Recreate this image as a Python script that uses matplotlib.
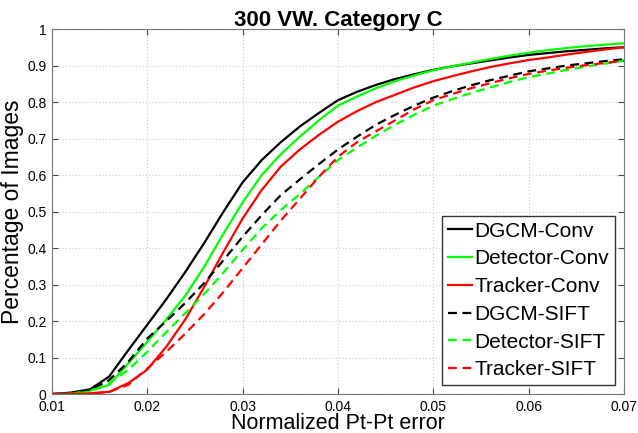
import matplotlib
matplotlib.use('Agg')
import matplotlib.pyplot as plt
import numpy as np

plt.rcParams['font.family'] = ['Liberation Sans', 'DejaVu Sans']

# normalized point-to-point error (x) and fraction of images (y)
err = [0.010, 0.012, 0.014, 0.016, 0.018, 0.020, 0.022, 0.024, 0.026, 0.028,
       0.030, 0.032, 0.034, 0.036, 0.038, 0.040, 0.042, 0.044, 0.046, 0.048,
       0.050, 0.052, 0.054, 0.056, 0.058, 0.060, 0.062, 0.064, 0.066, 0.068,
       0.070]

dgcm_conv = [0.000, 0.004, 0.013, 0.048, 0.120, 0.190, 0.260, 0.335, 0.415, 0.500,
             0.580, 0.641, 0.690, 0.733, 0.770, 0.805, 0.828, 0.847, 0.863, 0.876,
             0.888, 0.898, 0.906, 0.914, 0.922, 0.929, 0.934, 0.939, 0.943, 0.947,
             0.950]
detector_conv = [0.000, 0.001, 0.009, 0.025, 0.084, 0.143, 0.205, 0.270, 0.350, 0.440,
                 0.525, 0.600, 0.657, 0.705, 0.750, 0.790, 0.815, 0.838, 0.857, 0.873,
                 0.887, 0.898, 0.908, 0.918, 0.927, 0.935, 0.942, 0.948, 0.953, 0.957,
                 0.961]
tracker_conv = [0.000, 0.000, 0.002, 0.006, 0.030, 0.067, 0.130, 0.205, 0.295, 0.390,
                0.481, 0.559, 0.623, 0.670, 0.710, 0.746, 0.775, 0.800, 0.820, 0.840,
                0.857, 0.871, 0.884, 0.896, 0.906, 0.915, 0.922, 0.930, 0.937, 0.944,
                0.950]
dgcm_sift = [0.000, 0.002, 0.011, 0.038, 0.088, 0.152, 0.200, 0.250, 0.305, 0.367,
             0.431, 0.490, 0.545, 0.588, 0.630, 0.670, 0.705, 0.738, 0.765, 0.790,
             0.812, 0.830, 0.846, 0.860, 0.872, 0.884, 0.892, 0.900, 0.906, 0.912,
             0.917]
detector_sift = [0.000, 0.001, 0.006, 0.030, 0.066, 0.116, 0.170, 0.222, 0.275, 0.333,
                 0.395, 0.454, 0.504, 0.548, 0.595, 0.641, 0.675, 0.708, 0.738, 0.765,
                 0.790, 0.808, 0.825, 0.840, 0.855, 0.868, 0.878, 0.888, 0.897, 0.905,
                 0.913]
tracker_sift = [0.000, 0.000, 0.001, 0.006, 0.025, 0.070, 0.116, 0.166, 0.220, 0.280,
                0.345, 0.410, 0.475, 0.535, 0.595, 0.650, 0.690, 0.720, 0.750, 0.780,
                0.805, 0.822, 0.838, 0.852, 0.865, 0.877, 0.886, 0.894, 0.901, 0.907,
                0.913]

labels = ['DGCM-Conv', 'Detector-Conv', 'Tracker-Conv',
          'DGCM-SIFT', 'Detector-SIFT', 'Tracker-SIFT']
series = [dgcm_conv, detector_conv, tracker_conv, dgcm_sift, detector_sift, tracker_sift]

xticks = [0.01, 0.02, 0.03, 0.04, 0.05, 0.06, 0.07]
yticks = [0, 0.1, 0.2, 0.3, 0.4, 0.5, 0.6, 0.7, 0.8, 0.9, 1]
yticklabels = ['0', '0.1', '0.2', '0.3', '0.4', '0.5', '0.6', '0.7', '0.8', '0.9', '1']

colors = ['black', '#00ff00', '#ff0000', 'black', '#00ff00', '#ff0000']
styles = ['-', '-', '-', (0, (4, 2.5)), (0, (4, 2.5)), (0, (4, 2.5))]

fig = plt.figure(figsize=(6.38, 4.33), dpi=100)
ax = fig.add_axes([0.0815, 0.09, 0.8965, 0.843])

for y, lab, c, ls in zip(series, labels, colors, styles):
    ax.plot(err, y, color=c, linestyle=ls, linewidth=1.6, label=lab)

ax.set_xlim(0.01, 0.07)
ax.set_ylim(0, 1)
ax.set_xticks(xticks)
ax.set_xticklabels(['%.2f' % t for t in xticks])
ax.set_yticks(yticks)
ax.set_yticklabels(yticklabels)
ax.tick_params(direction='in', top=True, right=True, labelsize=10,
               color='#444444', length=4)
ax.tick_params(axis='x', pad=4.5)
ax.tick_params(axis='y', pad=4)
for s in ax.spines.values():
    s.set_color('#777777')
ax.grid(True, linestyle=(0, (1, 2)), color='#cccccc', linewidth=0.8)

ax.set_xlabel('Normalized Pt-Pt error', fontsize=15.5, labelpad=-1)
ax.set_ylabel('Percentage of Images', fontsize=16.5, labelpad=2)
ax.set_title('300 VW. Category C', fontsize=16, fontweight='bold', pad=2)

leg = ax.legend(loc='lower right', fontsize=15, fancybox=False, edgecolor='#333333',
                framealpha=1, handlelength=1.15, handletextpad=0.15, labelspacing=0.42,
                borderpad=0.25, borderaxespad=0.45)
leg.get_frame().set_linewidth(1.0)

fig.savefig('out.png', dpi=100)
